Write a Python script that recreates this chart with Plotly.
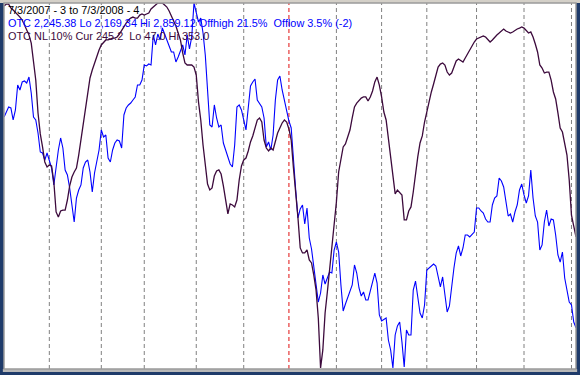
import pandas as pd
import plotly.graph_objects as go

# Trading days 7/3/2007 .. 7/3/2008
holidays = ["2007-07-04", "2007-09-03", "2007-11-22", "2007-12-25", "2008-01-01",
            "2008-01-21", "2008-02-18", "2008-03-21", "2008-05-26"]
dates = [d for d in pd.bdate_range("2007-07-03", "2008-07-03")
         if d.strftime("%Y-%m-%d") not in holidays]

# OTC (Nasdaq composite) closes, one per trading day
otc = [2643.7, 2653.1, 2662.6, 2660.7, 2638.0, 2656.9, 2704.1, 2694.7, 2709.8, 2711.7,
       2707.9, 2719.3, 2689.0, 2643.7, 2638.0, 2613.4, 2577.5, 2575.6, 2562.4, 2575.6,
       2558.6, 2547.3, 2515.2, 2553.0, 2581.3, 2604.0, 2585.1, 2543.5, 2534.1, 2509.5,
       2477.4, 2445.2, 2490.6, 2505.7, 2515.2, 2547.3, 2558.6, 2562.4, 2539.7, 2501.9,
       2537.8, 2560.5, 2581.3, 2619.1, 2605.9, 2609.7, 2566.2, 2558.6, 2581.3, 2594.5,
       2600.2, 2598.3, 2585.1, 2647.5, 2660.7, 2666.4, 2670.1, 2675.8, 2681.5, 2704.1,
       2704.1, 2713.6, 2742.0, 2740.1, 2743.8, 2742.0, 2798.7, 2779.8, 2800.5, 2789.2,
       2811.9, 2800.5, 2789.2, 2777.9, 2766.5, 2766.5, 2747.6, 2757.1, 2770.3, 2779.8,
       2760.9, 2798.7, 2772.2, 2794.9, 2859.1, 2842.1, 2823.2, 2830.8, 2802.4, 2760.9,
       2694.7, 2628.6, 2624.8, 2666.4, 2641.8, 2624.8, 2628.6, 2594.5, 2581.3, 2566.2,
       2554.8, 2549.2, 2590.8, 2662.6, 2666.4, 2656.9, 2639.9, 2619.1, 2660.7, 2702.3,
       2709.8, 2715.5, 2675.8, 2668.2, 2662.6, 2641.8, 2587.0, 2596.4, 2581.3, 2609.7,
       2675.8, 2713.6, 2721.2, 2694.7, 2675.8, 2653.1, 2636.1, 2622.9, 2553.0, 2505.7,
       2452.8, 2469.8, 2477.4, 2441.4, 2471.7, 2415.0, 2394.2, 2362.1, 2335.6, 2294.0,
       2311.0, 2345.1, 2328.0, 2341.3, 2350.7, 2348.8, 2392.3, 2407.4, 2388.5, 2326.2,
       2277.0, 2290.2, 2301.6, 2312.9, 2326.2, 2364.0, 2348.8, 2320.5, 2305.4, 2312.9,
       2297.8, 2297.8, 2316.7, 2335.6, 2348.8, 2329.9, 2269.5, 2258.1, 2261.9, 2263.8,
       2222.2, 2203.3, 2169.3, 2231.7, 2248.7, 2256.2, 2218.4, 2171.2, 2241.1, 2231.7,
       2231.7, 2316.7, 2333.7, 2297.8, 2273.2, 2263.8, 2288.4, 2354.5, 2358.3, 2360.2,
       2365.8, 2362.1, 2343.2, 2322.4, 2341.3, 2301.6, 2275.1, 2286.5, 2328.0, 2358.3,
       2386.6, 2399.9, 2381.0, 2396.1, 2420.7, 2420.7, 2416.9, 2422.5, 2426.3, 2471.7,
       2471.7, 2466.0, 2462.2, 2450.9, 2445.2, 2445.2, 2477.4, 2490.6, 2494.4, 2528.4,
       2522.7, 2511.4, 2486.8, 2456.6, 2460.3, 2445.2, 2464.1, 2477.4, 2505.7, 2517.0,
       2496.3, 2481.1, 2494.4, 2543.5, 2490.6, 2456.6, 2445.2, 2392.3, 2401.8, 2445.2,
       2467.9, 2437.7, 2450.9, 2449.0, 2420.7, 2382.9, 2369.6, 2388.5, 2339.4, 2312.9,
       2294.0, 2288.4, 2256.2, 2245.4]

# OTC NL 10% indicator, one per trading day
otc_nl = [350.5, 352.1, 352.1, 348.8, 347.1, 345.4, 342.9, 341.2, 338.7, 334.5,
          330.3, 326.2, 319.4, 302.7, 288.4, 260.8, 243.2, 232.3, 219.7, 215.5,
          217.2, 216.3, 202.9, 177.8, 173.6, 178.6, 179.4, 179.4, 187.8, 199.6,
          207.1, 211.3, 214.6, 225.5, 238.1, 252.4, 267.5, 280.0, 290.1, 296.8,
          302.7, 307.7, 313.6, 317.8, 320.3, 322.0, 322.0, 322.8, 323.6, 323.6,
          324.5, 327.0, 330.3, 333.7, 336.2, 338.7, 340.4, 341.2, 340.4, 340.4,
          342.9, 343.8, 342.9, 343.8, 344.6, 348.0, 349.6, 351.3, 353.0, 353.0,
          353.0, 351.3, 349.6, 346.3, 342.1, 337.9, 333.7, 327.8, 322.0, 311.1,
          302.7, 301.0, 301.0, 301.0, 299.3, 292.6, 270.0, 254.9, 233.9, 218.8,
          201.2, 196.2, 197.9, 207.9, 212.1, 213.0, 209.6, 199.6, 187.8, 176.1,
          184.5, 183.6, 182.0, 187.8, 204.6, 216.3, 221.4, 223.0, 228.9, 236.5,
          241.5, 249.0, 254.9, 256.6, 253.2, 238.1, 231.4, 228.9, 231.4, 229.7,
          236.5, 244.0, 248.2, 252.4, 254.9, 253.2, 247.4, 238.1, 214.6, 196.2,
          172.7, 147.6, 143.4, 143.4, 145.9, 137.5, 135.0, 124.9, 112.4, 88.9,
          47.0, 62.1, 93.1, 110.7, 129.1, 145.9, 164.3, 186.1, 211.3, 221.4,
          232.3, 234.8, 239.8, 246.5, 256.6, 265.8, 269.1, 271.7, 273.3, 274.2,
          274.2, 270.8, 274.2, 279.2, 286.8, 290.9, 284.2, 274.2, 261.6, 254.9,
          239.8, 223.0, 204.6, 192.9, 196.2, 194.5, 192.0, 171.1, 171.1, 178.6,
          182.0, 194.5, 211.3, 223.9, 235.6, 241.5, 253.2, 261.6, 271.7, 278.4,
          285.1, 291.8, 299.3, 301.8, 302.7, 301.0, 295.1, 292.6, 294.3, 299.3,
          304.4, 306.0, 304.4, 303.5, 306.9, 310.2, 314.4, 316.9, 320.3, 322.8,
          323.6, 324.5, 325.3, 324.5, 322.0, 320.3, 322.0, 324.5, 326.2, 327.8,
          329.5, 331.2, 329.5, 328.7, 327.8, 328.7, 330.3, 331.2, 332.0, 332.9,
          332.0, 330.3, 327.8, 328.7, 324.5, 318.6, 311.9, 301.0, 298.5, 294.3,
          295.1, 295.1, 288.4, 278.4, 272.5, 260.8, 248.2, 244.8, 236.5, 225.5,
          204.6, 175.2, 166.0, 156.8]

title_lines = ["7/3/2007 - 3 to 7/3/2008 - 4",
               "OTC 2,245.38 Lo 2,169.34 Hi 2,859.12 Offhigh 21.5%  Offlow 3.5% (-2)",
               "OTC NL 10% Cur 245.2  Lo 47.0 Hi 353.0"]

BLUE = "#0000ff"
PURPLE = "#3c0a3c"

days = list(range(len(dates)))

fig = go.Figure()
fig.add_trace(go.Scatter(x=days, y=otc, mode="lines", line=dict(color=BLUE, width=1.1),
                         yaxis="y", hoverinfo="skip"))
fig.add_trace(go.Scatter(x=days, y=otc_nl, mode="lines", line=dict(color=PURPLE, width=1.3),
                         yaxis="y2", hoverinfo="skip"))

shapes = []
# month-start dashed lines (red at year change)
for i in range(1, len(dates)):
    if dates[i].month != dates[i - 1].month:
        col = "#e01010" if dates[i].year != dates[i - 1].year else "#808080"
        shapes.append(dict(type="line", xref="x", yref="paper", x0=i, x1=i, y0=0, y1=1,
                           line=dict(color=col, width=1, dash="4px,3px"), layer="below"))
# window chrome
shapes.append(dict(type="rect", xref="paper", yref="paper", x0=-0.01, x1=1.01, y0=1.0, y1=1.01,
                   fillcolor="#d4d0c8", line=dict(width=0), layer="below"))
shapes.append(dict(type="rect", xref="paper", yref="paper", x0=-0.002, x1=1.002, y0=-0.008, y1=0,
                   fillcolor="#b8b8b8", line=dict(width=0)))
shapes.append(dict(type="rect", xref="paper", yref="paper", x0=0, x1=1, y0=0, y1=1,
                   line=dict(color="#9a9a9a", width=1.5)))

fig.update_layout(shapes=shapes)

anns = []
colors = ["#000000", BLUE, PURPLE]
ys = [0.981, 0.945, 0.910]
for t, c, yy in zip(title_lines, colors, ys):
    anns.append(dict(text=t, xref="paper", yref="paper", x=0.004, y=yy, xanchor="left",
                     yanchor="middle", showarrow=False,
                     font=dict(family="Liberation Sans, Arial", size=10.9, color=c)))

fig.update_layout(
    width=580, height=375,
    margin=dict(l=4, r=4, t=3, b=6),
    paper_bgcolor="#1f3b6a",
    plot_bgcolor="#ffffff",
    showlegend=False,
    hovermode=False,
    annotations=anns,
    xaxis=dict(range=[-0.05, 253.0], visible=False, showgrid=False, zeroline=False),
    yaxis=dict(range=[2167.4, 2859.1], visible=False, showgrid=False, zeroline=False),
    yaxis2=dict(range=[46.1, 353.0], visible=False, showgrid=False, zeroline=False,
                overlaying="y"),
)

fig.write_html("out.html", config={"displayModeBar": False, "staticPlot": True},
               post_script="document.body.style.margin='0';document.body.style.overflow='hidden';")
